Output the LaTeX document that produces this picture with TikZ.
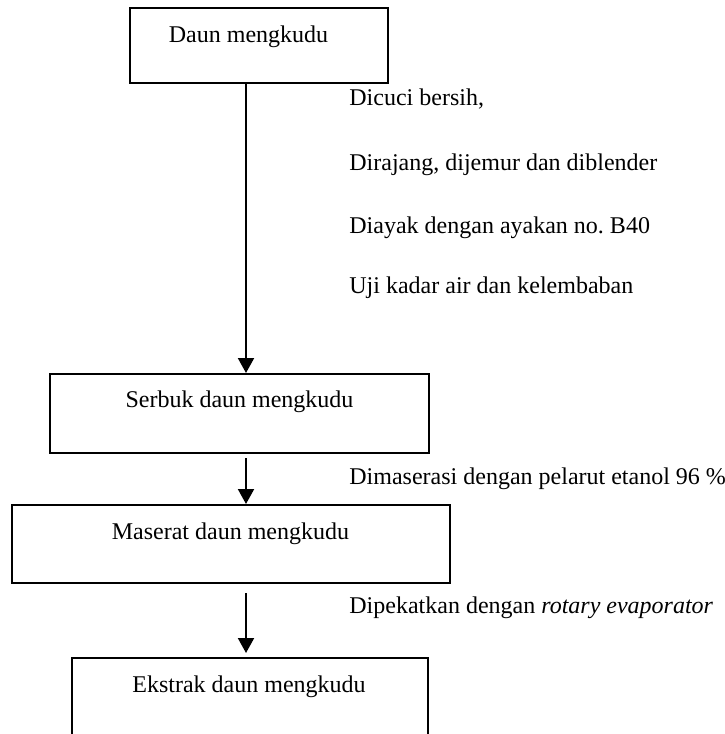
\documentclass[tikz,border=0pt]{standalone}
\usepackage{fontspec}
\setmainfont{Liberation Serif}
\usepackage{tikz}
\usetikzlibrary{positioning, arrows.meta, calc}
\frenchspacing

\tikzset{
  kotak/.style={draw, line width=1pt, rectangle, inner sep=0pt},
  judul/.style={anchor=base, font=\fontsize{12}{14}\selectfont},
  ket/.style={anchor=base west, inner sep=0pt, font=\fontsize{12}{14}\selectfont},
  panah/.style={line width=1pt, -{Triangle[length=7.5pt, width=8pt]}}
}

\begin{document}
\begin{tikzpicture}[x=0.5pt, y=-0.5pt]
        \useasboundingbox (0,0) rectangle (724,734);
        \clip (0,0) rectangle (724,734);

        % kotak tahapan
        \node[kotak, minimum width=129pt, minimum height=37.5pt] (daun) at (259,45.5) {};
        \node[kotak, minimum width=189.5pt, minimum height=39.5pt] (serbuk) at (239.5,413.5) {};
        \node[kotak, minimum width=219pt, minimum height=39pt] (maserat) at (231,544) {};
        \node[kotak, minimum width=178pt, minimum height=39pt] (ekstrak) at (250,697) {};

        \node[judul] (tdaun) at (248.5,42) {Daun mengkudu};
        \node[judul] (tserbuk) at (239.5,407) {Serbuk daun mengkudu};
        \node[judul] (tmaserat) at (230.5,539) {Maserat daun mengkudu};
        \node[judul] (tekstrak) at (249,692) {Ekstrak daun mengkudu};

        % panah
        \coordinate (jalur) at (246,0);
        \draw[panah] (daun.south -| jalur) -- (serbuk.north -| jalur);
        \draw[panah, shorten <=2pt] (serbuk.south -| jalur) -- (maserat.north -| jalur);
        \draw[panah, shorten <=4.5pt, shorten >=2pt] (maserat.south -| jalur) -- (ekstrak.north -| jalur);

        % keterangan
        \foreach \i/\y/\teks in {1/105/{Dicuci bersih,}, 2/170/{Dirajang, dijemur dan diblender},
                                 3/233/{Diayak dengan ayakan no. B40}, 4/293/{Uji kadar air dan kelembaban}} {
          \node[ket] (ket\i) at (349,\y) {\teks};
        }
        \node[ket] (ket5) at (349,484) {Dimaserasi dengan pelarut etanol 96 \%};
        \node[ket] (ket6) at (349,613) {Dipekatkan dengan \textit{rotary evaporator}};
      \end{tikzpicture}
\end{document}
